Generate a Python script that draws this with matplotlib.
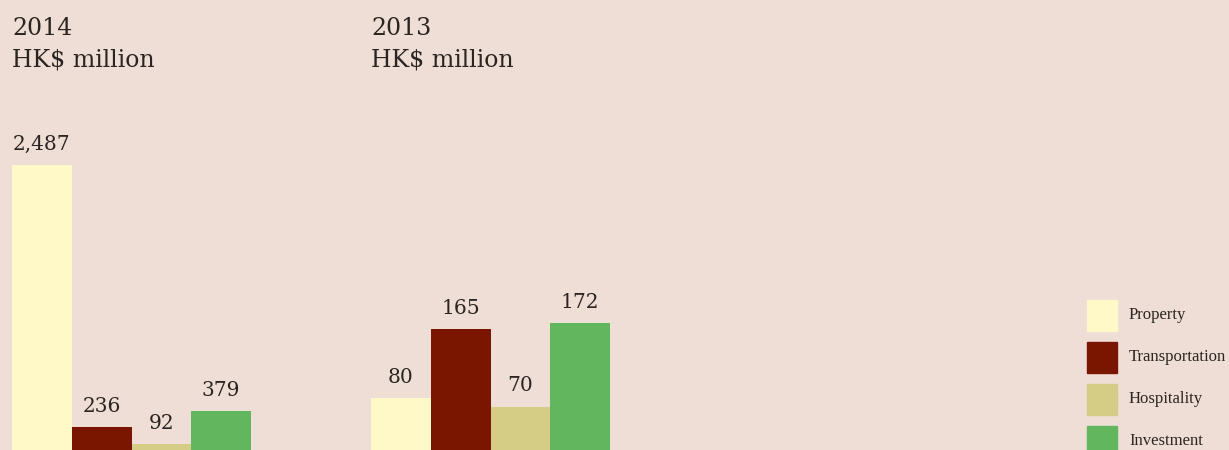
import matplotlib
matplotlib.use("Agg")
import matplotlib.pyplot as plt
from matplotlib.patches import Rectangle

categories = ["Property", "Transportation", "Hospitality", "Investment"]
values_2014 = [2487, 236, 92, 379]
values_2013 = [80, 165, 70, 172]
labels_2014 = ["2,487", "236", "92", "379"]
labels_2013 = ["80", "165", "70", "172"]
colors = ["#FEF9C6", "#7A1500", "#D5CC86", "#62B75E"]
bg = "#EEDED5"

W, H = 1229, 450
fig = plt.figure(figsize=(W / 100, H / 100), dpi=100, facecolor=bg)
serif = ["DejaVu Serif"]
legend_font = ["Liberation Serif", "DejaVu Serif"]
ink = "#2a2522"

def px_axes(left, bottom_from_top, width, height):
    return fig.add_axes([left / W, (H - bottom_from_top) / H, width / W, height / H])

def panel(left, baseline, px_per_unit, vals, labs, year):
    ymax = 2600
    ax = px_axes(left, baseline, 239, ymax * px_per_unit)
    ax.set_facecolor("none")
    ax.bar(range(4), vals, width=1.0, color=colors)
    ax.set_xlim(-0.5, 3.5)
    ax.set_ylim(0, ymax)
    for i, (v, t) in enumerate(zip(vals, labs)):
        ax.annotate(t, (i, v), xytext=(0, 8), textcoords="offset points",
                    ha="center", va="bottom", fontsize=14.5, family=serif, color=ink)
    ax.axis("off")
    fig.text(left / W, 1 - 35 / H, f"{year}", ha="left", va="baseline",
             fontsize=17, family=serif, color=ink)
    fig.text(left / W, 1 - 67 / H, "HK$ million", ha="left", va="baseline",
             fontsize=17, family=serif, color=ink)

panel(12, 455, 290 / 2487, values_2014, labels_2014, "2014")
panel(371, 464, 0.82, values_2013, labels_2013, "2013")

for i, name in enumerate(categories):
    top = 300 + i * 42
    fig.patches.append(Rectangle((1087 / W, (H - top - 31) / H), 30 / W, 31 / H,
                                 transform=fig.transFigure, color=colors[i]))
    fig.text(1129 / W, (H - top - 15) / H, name, ha="left", va="center",
             fontsize=12, family=legend_font, color=ink)

fig.savefig("out.png", dpi=100, facecolor=bg)
